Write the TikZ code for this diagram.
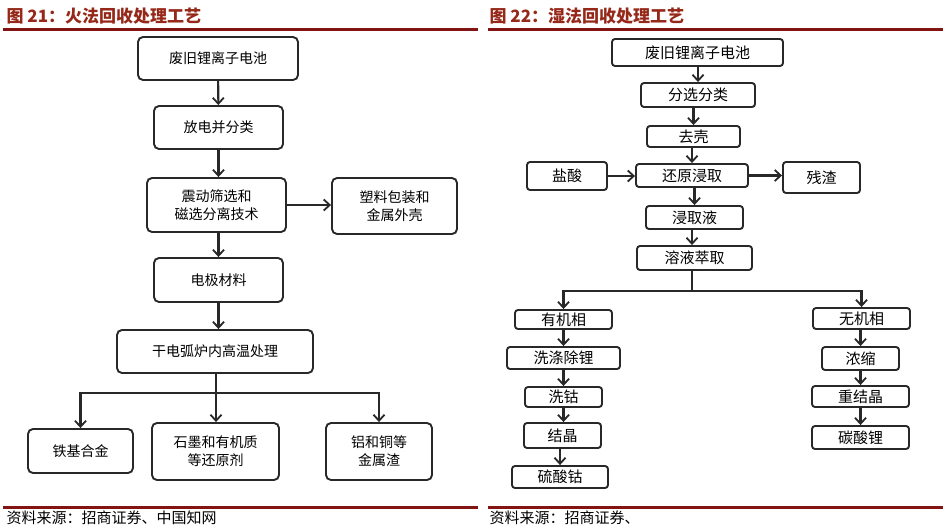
\documentclass[tikz,border=0pt]{standalone}
\usepackage{fontspec}
\setmainfont{Noto Sans CJK SC}
\usetikzlibrary{arrows.meta}
\definecolor{barred}{RGB}{130,20,20}
\definecolor{titlered}{RGB}{150,40,25}
\definecolor{boxgray}{RGB}{40,40,40}
\begin{document}
\begin{tikzpicture}[x=1pt, y=-1pt,
    stepbox/.style={draw=boxgray, line width=1.9pt, rounded corners=5pt, align=center, inner sep=0pt},
    lbox/.style={stepbox, font=\fontsize{14}{18}\selectfont},
    rbox/.style={stepbox, rounded corners=3pt, font=\fontsize{15}{17}\selectfont},
    arr/.style={-{Straight Barb[length=6pt, width=11pt, line width=1.8pt]}, line width=2.1pt, draw=boxgray},
    stem/.style={line width=2.1pt, draw=boxgray},
    titletext/.style={anchor=west, text=titlered, font=\fontsize{17}{19}\selectfont\bfseries},
    srctext/.style={anchor=west, font=\fontsize{15}{17}\selectfont}]
    \useasboundingbox (0,0) rectangle (949,530);

    % Titles and rules
    \node[titletext] (ltitle) at (3,16) {图 21：火法回收处理工艺};
    \node[titletext] (rtitle) at (486,16) {图 22：湿法回收处理工艺};
    \fill[barred] (3,28) rectangle (478,30.5);
    \fill[barred] (488,28) rectangle (943,30.5);
    \fill[barred] (3,506) rectangle (478,508.5);
    \fill[barred] (488,506) rectangle (943,508.5);
    \node[srctext] (lsrc) at (3,518) {资料来源：招商证券、中国知网};
    \node[srctext] (rsrc) at (486,518) {资料来源：招商证券、};

    % Pyrometallurgy (left)
    \node[lbox, minimum width=160pt, minimum height=43pt] (lbat) at (218,58.5) {废旧锂离子电池};
    \node[lbox, minimum width=129pt, minimum height=43pt] (dis) at (218.5,127.5) {放电并分类};
    \node[lbox, minimum width=139pt, minimum height=54pt] (sieve) at (216.5,205) {震动筛选和\\磁选分离技术};
    \node[lbox, minimum width=125pt, minimum height=56pt] (shell) at (394.5,206) {塑料包装和\\金属外壳};
    \node[lbox, minimum width=129pt, minimum height=44pt] (elec) at (218.5,280) {电极材料};
    \node[lbox, minimum width=196pt, minimum height=43pt] (furn) at (215,351.5) {干电弧炉内高温处理};
    \node[lbox, minimum width=105pt, minimum height=44pt] (fe) at (80.5,451) {铁基合金};
    \node[lbox, minimum width=127pt, minimum height=57pt] (graph) at (215.5,451.5) {石墨和有机质\\等还原剂};
    \node[lbox, minimum width=106pt, minimum height=57pt] (slag) at (379,451.5) {铝和铜等\\金属渣};
    \coordinate (lsplit) at (216,393);

    \draw[arr] (lbat) -- (dis);
    \draw[arr] (dis) -- (sieve.north -| dis);
    \draw[arr] (sieve.east) -- (shell.west |- sieve.east);
    \draw[arr] (sieve.south -| elec) -- (elec);
    \draw[arr] (elec) -- (furn.north -| elec);
    \draw[stem] (furn.south -| lsplit) -- (lsplit);
    \draw[arr] (lsplit) -| (fe.north);
    \draw[arr] (lsplit) -- (graph.north -| lsplit);
    \draw[arr] (lsplit) -| (slag.north);

    % Hydrometallurgy (right)
    \node[rbox, minimum width=171pt, minimum height=27pt] (rbat) at (697.5,52.5) {废旧锂离子电池};
    \node[rbox, minimum width=114pt, minimum height=24pt] (sort) at (698,95) {分选分类};
    \node[rbox, minimum width=93pt, minimum height=21pt] (peel) at (693.5,136.5) {去壳};
    \node[rbox, minimum width=112pt, minimum height=23pt] (leach) at (692,175.5) {还原浸取};
    \node[rbox, minimum width=80pt, minimum height=28pt] (hcl) at (567,176) {盐酸};
    \node[rbox, minimum width=77pt, minimum height=31pt] (resid) at (821.5,177.5) {残渣};
    \node[rbox, minimum width=97pt, minimum height=23pt] (liq) at (694.5,217.5) {浸取液};
    \node[rbox, minimum width=115pt, minimum height=24pt] (extr) at (694.5,258) {溶液萃取};
    \coordinate (rsplit) at (692,291);

    \node[rbox, minimum width=97pt, minimum height=19pt] (org) at (563.5,319.5) {有机相};
    \node[rbox, minimum width=113pt, minimum height=22pt] (wash) at (563.5,358) {洗涤除锂};
    \node[rbox, minimum width=77pt, minimum height=20pt] (cowash) at (563.5,397) {洗钴};
    \node[rbox, minimum width=77pt, minimum height=25pt] (cryst) at (562.5,435.5) {结晶};
    \node[rbox, minimum width=96pt, minimum height=22pt] (coso) at (560,477) {硫酸钴};

    \node[rbox, minimum width=97pt, minimum height=21pt] (inorg) at (861.5,318.5) {无机相};
    \node[rbox, minimum width=77pt, minimum height=23pt] (conc) at (860.5,358.5) {浓缩};
    \node[rbox, minimum width=97pt, minimum height=21pt] (recry) at (860.5,396.5) {重结晶};
    \node[rbox, minimum width=97pt, minimum height=23pt] (lico) at (860.5,437.5) {碳酸锂};

    \draw[arr] (rbat.south -| sort) -- (sort);
    \draw[arr] (sort.south -| peel) -- (peel);
    \draw[arr] (peel.south -| leach) -- (leach);
    \draw[arr] (hcl) -- (leach.west |- hcl);
    \draw[arr] (leach) -- (resid.west |- leach);
    \draw[arr] (leach.south -| liq) -- (liq);
    \draw[arr] (liq.south -| rsplit) -- (extr.north -| rsplit);
    \draw[stem] (extr.south -| rsplit) -- (rsplit);
    \draw[arr] (rsplit) -| (org.north);
    \draw[arr] (rsplit) -| (inorg.north);

    \draw[arr] (org) -- (wash);
    \draw[arr] (wash) -- (cowash);
    \draw[arr] (cowash) -- (cryst.north -| cowash);
    \draw[arr] (cryst.south -| coso) -- (coso);

    \draw[arr] (inorg.south -| conc) -- (conc);
    \draw[arr] (conc) -- (recry.north -| conc);
    \draw[arr] (recry.south -| conc) -- (lico.north -| conc);
\end{tikzpicture}
\end{document}
